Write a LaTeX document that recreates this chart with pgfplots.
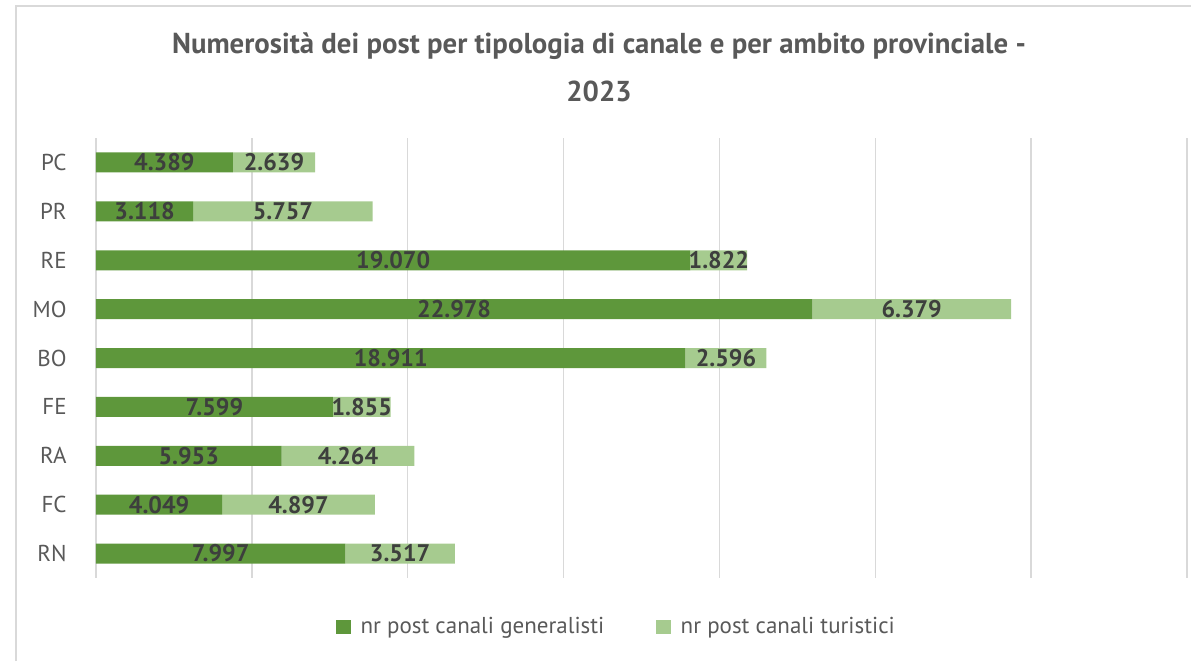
\documentclass[border=0pt]{standalone}
\usepackage{fontspec}
\setmainfont{PT Sans}
\usepackage{pgfplots}
\pgfplotsset{compat=1.18}
\definecolor{gdark}{HTML}{5E973B}
\definecolor{glight}{HTML}{A6CB8F}
\definecolor{txtgray}{HTML}{595959}
\definecolor{lblgray}{HTML}{3D3F3D}
\definecolor{gridgray}{HTML}{D9D9D9}

\begin{document}
\begin{tikzpicture}
  \useasboundingbox (0,0) rectangle (595.5pt,330.5pt);
  % frame of the chart area (only top and left visible)
  \draw[gridgray, line width=1pt] (8pt,0) -- (8pt,327.5pt) -- (595.5pt,327.5pt);
  % title
  \node[anchor=base, font=\fontsize{14.4}{16}\selectfont\bfseries, text=txtgray]
    at (299.5pt,304pt) {Numerosità dei post per tipologia di canale e per ambito provinciale -};
  \node[anchor=base, font=\fontsize{14.4}{16}\selectfont\bfseries, text=txtgray]
    at (299.5pt,280pt) {2023};

  \begin{axis}[
    at={(48pt,41.5pt)}, anchor=south west,
    scale only axis, width=545.5pt, height=220pt,
    xbar stacked, bar width=10pt,
    xmin=0, xmax=35000,
    ymin=-0.5, ymax=8.5, y dir=reverse,
    ytick={0,...,8},
    yticklabels={\mbox{PC},\mbox{PR},\mbox{RE},\mbox{MO},\mbox{BO},
                 \mbox{FE},\mbox{RA},\mbox{FC},\mbox{RN}},
    xtick={0,5000,...,35000}, xticklabels={}, scaled x ticks=false,
    xmajorgrids, grid style={gridgray, line width=0.75pt},
    axis line style={draw=none},
    major tick length=0pt,
    y tick label style={font=\fontsize{11.5}{13}\selectfont, text=txtgray,
                        anchor=east, inner sep=0pt, xshift=-14.5pt},
    /pgf/number format/assume math mode=true,
    visualization depends on={rawx \as \rawx},
    nodes near coords={\pgfmathprintnumber[1000 sep={.}]{\rawx}},
    every node near coord/.append style={anchor=center, inner sep=0pt,
      font=\fontsize{12}{14}\selectfont\bfseries, text=lblgray},
    legend style={at={(0.478,-0.111)}, anchor=center, draw=none, fill=none,
      legend columns=2, font=\fontsize{11.5}{13}\selectfont, text=txtgray,
      /tikz/every even column/.append style={column sep=24pt},
      legend cell align=left},
    legend image code/.code={\fill[#1] (0pt,-3.6pt) rectangle (7.2pt,3.6pt);},
    clip=false,
  ]
    \addplot[fill=gdark, draw=none] coordinates {
      (4389,0) (3118,1) (19070,2) (22978,3) (18911,4)
      (7599,5) (5953,6) (4049,7) (7997,8)
    };
    \addlegendentry{\hspace{3pt}nr post canali generalisti}
    \addplot[fill=glight, draw=none] coordinates {
      (2639,0) (5757,1) (1822,2) (6379,3) (2596,4)
      (1855,5) (4264,6) (4897,7) (3517,8)
    };
    \addlegendentry{\hspace{3pt}nr post canali turistici}
  \end{axis}
\end{tikzpicture}
\end{document}
